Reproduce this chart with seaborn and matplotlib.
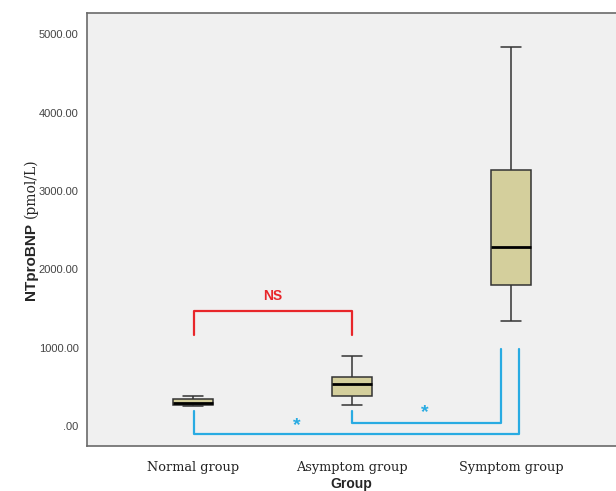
import numpy as np
import pandas as pd
import matplotlib
matplotlib.use("Agg")
import matplotlib.pyplot as plt
import seaborn as sns
from matplotlib.ticker import FuncFormatter

# ------------------------------------------
# Data (five-number summaries)
# ------------------------------------------
groups = ["Normal group", "Asymptom group", "Symptom group"]
lower_whisker = [262, 265, 1339]
q1_values = [272, 380, 1803]
medians = [290, 537, 2289]
q3_values = [345, 627, 3261]
upper_whisker = [382, 899, 4830]

rows = []
for i, g in enumerate(groups):
    for v in [lower_whisker[i], q1_values[i], medians[i], q3_values[i], upper_whisker[i]]:
        rows.append({"Group": g, "NTproBNP": v})
df = pd.DataFrame(rows)

# ------------------------------------------
# Plot
# ------------------------------------------
sns.set_style("white")
plt.rcParams["font.family"] = ["Liberation Sans", "DejaVu Sans"]

fig = plt.figure(figsize=(6.16, 4.91), dpi=100)
ax = fig.add_axes([0.1412, 0.0916, 0.8588, 0.8819])
ax.set_facecolor("#f0f0f0")

sns.boxplot(data=df, x="Group", y="NTproBNP", order=groups, ax=ax,
            color="#d4cf9c", saturation=1, width=0.25, linecolor="#333333",
            linewidth=1.1, showfliers=False,
            medianprops={"color": "black", "linewidth": 2})

ax.set_xlim(-0.664, 2.66)
ax.set_ylim(-255, 5270)
ax.set_yticks([0, 1000, 2000, 3000, 4000, 5000])
ax.yaxis.set_major_formatter(FuncFormatter(lambda v, p: ".00" if v == 0 else f"{v:.2f}"))

for s in ["left", "bottom", "top"]:
    ax.spines[s].set_color("#6a6a6a")
    ax.spines[s].set_linewidth(1.2)
ax.spines["right"].set_visible(False)

ax.tick_params(axis="both", direction="out", length=5, width=1, color="#555555")
ax.tick_params(axis="y", labelsize=8, labelcolor="#444444", pad=1)
ax.tick_params(axis="x", labelsize=9.3, labelcolor="#222222", pad=6)
for lab in ax.get_xticklabels():
    lab.set_family("DejaVu Serif")

ax.set_xlabel("Group", fontsize=10, fontweight="bold", labelpad=2)
ax.set_ylabel("")
fig.text(0.05, 0.545, "NTproBNP", rotation=90, ha="center", va="top",
         fontsize=11, fontweight="bold", family="Liberation Sans")
fig.text(0.05, 0.555, "(pmol/L)", rotation=90, ha="center", va="bottom",
         fontsize=10, family="DejaVu Serif")

# ------------------------------------------
# Significance brackets
# ------------------------------------------
red = "#e8262a"
blue = "#29abe2"
ax.plot([0.01, 0.01, 1.0, 1.0], [1164, 1470, 1470, 1164], color=red, lw=1.6)
ax.text(0.5, 1656, "NS", color=red, fontsize=10, fontweight="bold",
        ha="center", va="center")

ax.plot([0.01, 0.01, 2.05, 2.05], [191, -106, -106, 979], color=blue, lw=1.6)
ax.plot([1.0, 1.0, 1.94, 1.94], [191, 43, 43, 979], color=blue, lw=1.6)
ax.text(0.657, 10, "*", color=blue, fontsize=14, fontweight="bold",
        ha="center", va="center")
ax.text(1.46, 170, "*", color=blue, fontsize=14, fontweight="bold",
        ha="center", va="center")

fig.savefig("out.png", dpi=100)
